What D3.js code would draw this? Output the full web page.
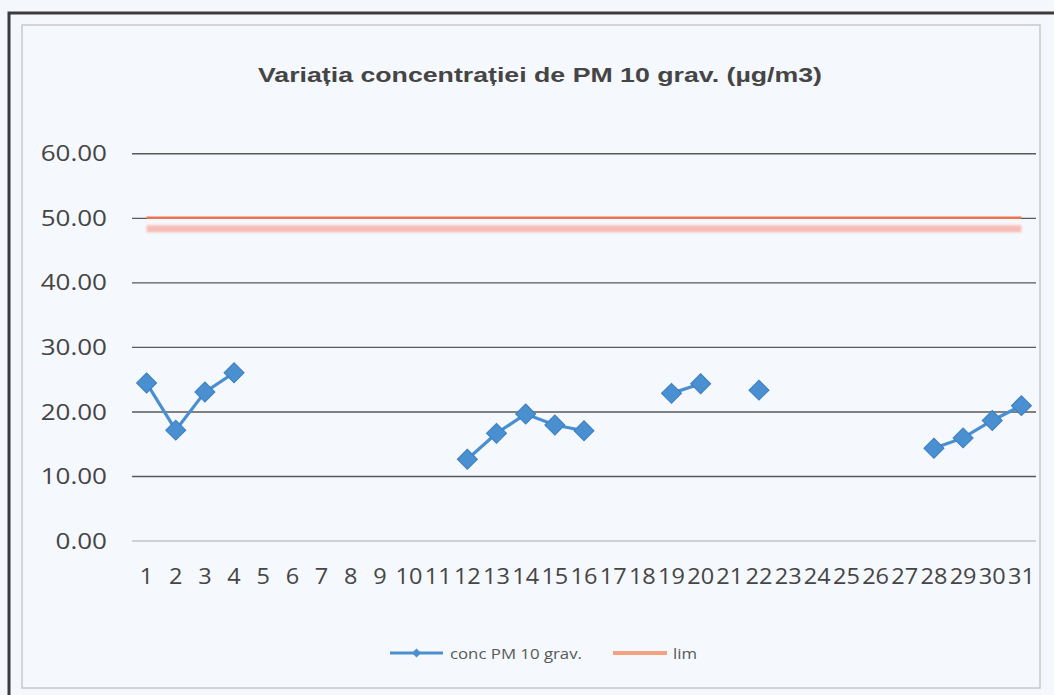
<!DOCTYPE html>
<html>
<head>
<meta charset="utf-8">
<script src="https://cdn.jsdelivr.net/npm/d3@7"></script>
<style>
  html, body { margin: 0; padding: 0; background: #f4f7fc; }
  svg { display: block; }
</style>
</head>
<body>
<svg id="chart" width="1054" height="695"></svg>
<script>
(function(){

	// days of the month
	var days = ["1","2","3","4","5","6","7","8","9","10","11","12","13","14","15","16",
		"17","18","19","20","21","22","23","24","25","26","27","28","29","30","31"];

	// conc PM 10 grav. (null = no measurement)
	var pm10 = [24.4, 17.1, 23.0, 26.0, null, null, null, null, null, null, null,
		12.6, 16.6, 19.6, 17.9, 17.0, null, null, 22.8, 24.3, null, 23.3,
		null, null, null, null, null, 14.3, 15.9, 18.6, 20.9];

	// limit value
	var lim = [50, 50, 50, 50, 50, 50, 50, 50, 50, 50, 50, 50, 50, 50, 50, 50,
		50, 50, 50, 50, 50, 50, 50, 50, 50, 50, 50, 50, 50, 50, 50];

	var yTicks = [0, 10, 20, 30, 40, 50, 60];

	var titleText = "Variația concentrației de PM 10 grav. (µg/m3)";
	var seriesNames = ["conc PM 10 grav.", "lim"];

	var blue = "#4a8fd0", blueDark = "#3a7fc2", salmon = "#f4a282", red = "#ee7450";
	var stretch = 1.12, yStretch = 1.24;
	var labelFont = "'Open Sans', Lato, sans-serif";

	var svg = d3.select("#chart");

	// frame
	svg.append("rect").attr("x", 9).attr("y", 13).attr("width", 1060).attr("height", 700)
		.attr("fill", "none").attr("stroke", "#3c3c3c").attr("stroke-width", 3);
	svg.append("rect").attr("x", 22).attr("y", 25).attr("width", 1018).attr("height", 663)
		.attr("fill", "#f5f8fc").attr("stroke", "#c9c9cc").attr("stroke-width", 1.5);

	svg.append("text")
		.attr("x", 540).attr("y", 82)
		.attr("text-anchor", "middle")
		.attr("textLength", 564).attr("lengthAdjust", "spacingAndGlyphs")
		.style("font-family", "'Liberation Sans', Arial, sans-serif")
		.style("font-weight", "bold").style("font-size", "21px")
		.attr("fill", "#454545")
		.text(titleText);

	var x = d3.scaleBand().domain(days).range([132, 1036]);
	var y = d3.scaleLinear().domain([0, 60]).range([540.5, 153.3]);
	var cx = function(d, i){ return x(days[i]) + x.bandwidth() / 2; };

	// gridlines + y labels
	var gy = svg.append("g").attr("transform", "translate(132,0)")
		.call(d3.axisLeft(y).tickValues(yTicks).tickSize(-(1036 - 132)).tickFormat(d3.format(".2f")));
	gy.select(".domain").remove();
	gy.selectAll(".tick line")
		.attr("stroke", function(d){ return d === 0 ? "#c4c4c8" : "#5a5a5a"; })
		.attr("stroke-width", function(d){ return d === 0 ? 1.5 : 1.4; });
	gy.selectAll(".tick text")
		.attr("x", -25 / yStretch).attr("dy", "0.36em")
		.attr("transform", "scale(" + yStretch + ",1)")
		.style("font-family", labelFont).style("font-size", "21px")
		.attr("fill", "#454545");

	// x labels
	var gx = svg.append("g").attr("transform", "translate(0,540.5)")
		.call(d3.axisBottom(x).tickSize(0));
	gx.select(".domain").remove();
	gx.selectAll(".tick text")
		.attr("y", 44).attr("dy", null)
		.attr("transform", "scale(" + stretch + ",1)")
		.style("font-family", labelFont).style("font-size", "21px")
		.attr("fill", "#454545");

	// lim line with the scanned ghost under it
	var limLine = d3.line().x(cx).y(function(d){ return y(d); });
	svg.append("defs").append("filter").attr("id", "soft")
		.attr("filterUnits", "userSpaceOnUse")
		.attr("x", 0).attr("y", 0).attr("width", 1054).attr("height", 695)
		.append("feGaussianBlur").attr("stdDeviation", 1.3);
	svg.append("path").datum(lim)
		.attr("d", limLine)
		.attr("transform", "translate(0,11)")
		.attr("fill", "none").attr("stroke", "#f8b2aa").attr("stroke-width", 7)
		.attr("opacity", 0.85).attr("filter", "url(#soft)");
	svg.append("path").datum(lim)
		.attr("d", limLine)
		.attr("fill", "none").attr("stroke", red).attr("stroke-width", 2.5);

	// PM10 series
	var pmLine = d3.line().defined(function(d){ return d != null; }).x(cx).y(function(d){ return y(d); });
	svg.append("path").datum(pm10)
		.attr("d", pmLine)
		.attr("fill", "none").attr("stroke", blue).attr("stroke-width", 3.2);

	var diamond = d3.symbol().type(d3.symbolSquare).size(200);
	svg.append("g").selectAll("path")
		.data(pm10.map(function(v, i){ return { v: v, i: i }; }).filter(function(d){ return d.v != null; }))
		.enter().append("path")
		.attr("d", diamond)
		.attr("transform", function(d){ return "translate(" + cx(null, d.i) + "," + y(d.v) + ") rotate(45)"; })
		.attr("fill", blue).attr("stroke", blueDark).attr("stroke-width", 1);

	// legend
	var lg = svg.append("g").attr("transform", "translate(0,653)");
	lg.append("line").attr("x1", 390).attr("x2", 443).attr("y1", 0).attr("y2", 0)
		.attr("stroke", blue).attr("stroke-width", 3.2);
	lg.append("path").attr("d", d3.symbol().type(d3.symbolSquare).size(40))
		.attr("transform", "translate(416.5,0) rotate(45)").attr("fill", blue);
	lg.append("text").attr("x", 450 / stretch).attr("y", 6)
		.attr("transform", "scale(" + stretch + ",1)")
		.style("font-family", labelFont).style("font-size", "15px")
		.attr("fill", "#595959").text(seriesNames[0]);
	lg.append("line").attr("x1", 613).attr("x2", 667).attr("y1", 0).attr("y2", 0)
		.attr("stroke", salmon).attr("stroke-width", 4);
	lg.append("text").attr("x", 673 / stretch).attr("y", 6)
		.attr("transform", "scale(" + stretch + ",1)")
		.style("font-family", labelFont).style("font-size", "15px")
		.attr("fill", "#595959").text(seriesNames[1]);

})();
</script>
</body>
</html>
